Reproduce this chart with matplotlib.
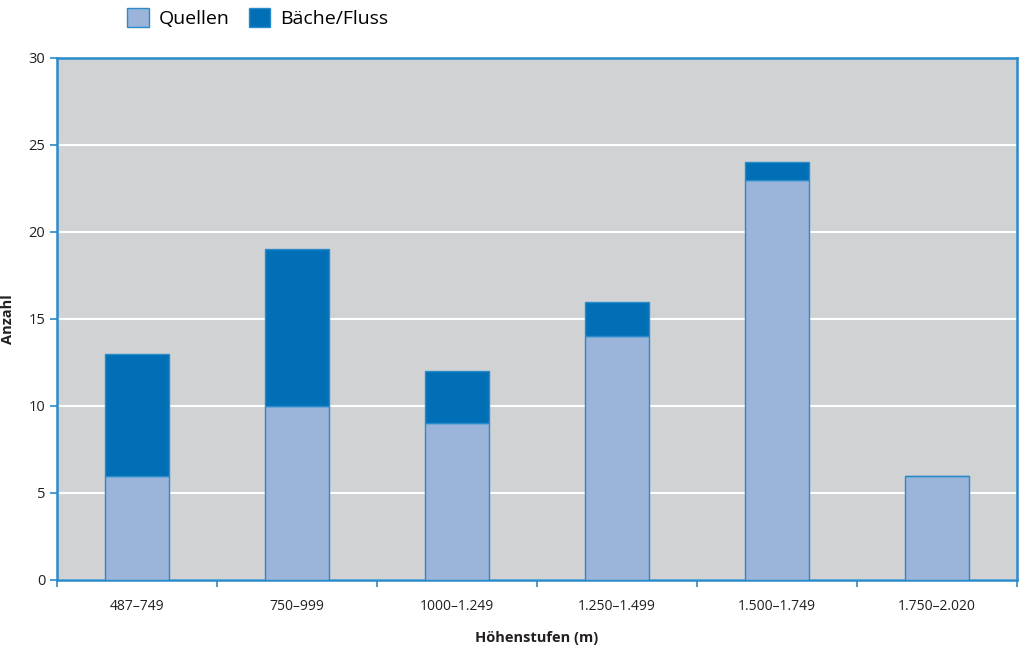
import matplotlib.pyplot as plt
import numpy as np

# data
stufen = ['487–749', '750–999', '1000–1.249', '1.250–1.499', '1.500–1.749', '1.750–2.020']
quellen = [6, 10, 9, 14, 23, 6]
baeche = [7, 9, 3, 2, 1, 0]

c_quellen = '#9bb4d9'
c_baeche = '#006fb5'
c_axis = '#2a8bcb'
c_bg = '#d1d2d4'

plt.rcParams['font.family'] = ['Open Sans', 'DejaVu Sans']

fig = plt.figure(figsize=(10.19, 6.47), dpi=100)
ax = fig.add_axes([0.0559, 0.1036, 0.942, 0.8068])
ax.set_facecolor(c_bg)

x = np.arange(len(stufen))
ax.bar(x, quellen, width=0.4, color=c_quellen, edgecolor=c_axis, linewidth=1,
       label='Quellen', zorder=3)
ax.bar(x, baeche, width=0.4, bottom=quellen, color=c_baeche, edgecolor=c_axis,
       linewidth=1, label='Bäche/Fluss', zorder=3)

ax.set_xlim(-0.5, len(stufen) - 0.5)
ax.set_ylim(0, 30)
ax.set_yticks(range(0, 31, 5))
ax.yaxis.grid(True, color='white', linewidth=1.5, zorder=1)
ax.set_axisbelow(True)

# ticks at the boundaries, labels in between
ax.set_xticks(np.arange(-0.5, len(stufen), 1))
ax.set_xticklabels([])
ax.set_xticks(x, minor=True)
ax.set_xticklabels(stufen, minor=True)
ax.tick_params(axis='x', which='minor', length=0, pad=14, labelsize=10, labelcolor='#231f20')
ax.tick_params(axis='x', which='major', length=5, color=c_axis, width=1.2)
ax.tick_params(axis='y', length=5, color=c_axis, width=1.2, labelsize=10.5, labelcolor='#231f20')

for s in ax.spines.values():
    s.set_color(c_axis)
    s.set_linewidth(1.8)

ax.set_xlabel('Höhenstufen (m)', fontsize=10.5, fontweight='bold', labelpad=12, color='#231f20')
ax.set_ylabel('Anzahl', fontsize=10.5, fontweight='bold', color='#231f20')
ax.yaxis.set_label_coords(-0.044, 0.5)

fig.legend(loc='center', bbox_to_anchor=(0.253, 0.972), ncol=2, frameon=False,
           fontsize=14, handlelength=1.1, handleheight=1.1, columnspacing=1.0,
           handletextpad=0.5)

fig.savefig('out.png', dpi=100)
